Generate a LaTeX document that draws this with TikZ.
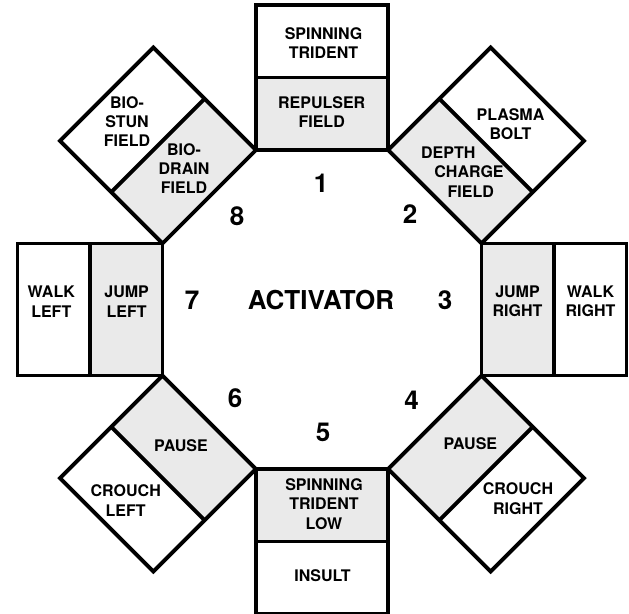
\documentclass[tikz,border=0pt]{standalone}
\usepackage{fontspec}
\setmainfont{TeX Gyre Heros}
\definecolor{boxgray}{RGB}{234,234,234}
\tikzset{
  lbl/.style={font=\fontsize{16}{19.3}\selectfont\bfseries, align=center, inner sep=0pt},
  big/.style={font=\fontsize{26}{30}\selectfont\bfseries, inner sep=0pt},
  frame/.style={line width=3.8pt, line join=miter},
}
\begin{document}
\begin{tikzpicture}[x=1pt,y=-1pt]
\useasboundingbox (0,0) rectangle (629,613);
\fill[white] (0,0) rectangle (629,613);
\coordinate (C) at (322,309.5);
% eight two-part panels around the octagon
\foreach \k in {0,...,7}{
  \begin{scope}[shift={(C)}, rotate=45*\k]
    \fill[boxgray] (-66.05,-159.5) rectangle (66.05,-232);
    \draw[frame] (-66.05,-159.5) rectangle (66.05,-304.5);
    \draw[frame] (-66.05,-232) -- (66.05,-232);
  \end{scope}
}
% panel labels
\node[lbl] (st)  at (323.5,43)    {SPINNING\\TRIDENT};
\node[lbl] (rf)  at (321.7,112)   {REPULSER\\FIELD};
\node[lbl] (bs)  at (127,121.5)   {BIO-\\STUN\\FIELD};
\node[lbl] (bd)  at (184,168.5)   {BIO-\\DRAIN\\FIELD};
\node[lbl] (pb)  at (510.5,124)   {PLASMA\\BOLT};
\node[lbl] (dc)  at (469,172)     {DEPTH\kern41.4pt\\CHARGE\\\kern3.6pt FIELD};
\node[lbl] (wl)  at (51.3,301.7)  {WALK\\LEFT};
\node[lbl] (jl)  at (126.6,301.7) {JUMP\\LEFT};
\node[lbl] (jr)  at (517.5,301.5) {JUMP\\RIGHT};
\node[lbl] (wr)  at (590.5,301.5) {WALK\\RIGHT};
\node[lbl] (pl)  at (181,446)     {PAUSE};
\node[lbl] (cl)  at (125.7,500.5) {CROUCH\\LEFT};
\node[lbl] (pr)  at (470.3,444)   {PAUSE};
\node[lbl] (cr)  at (518,498.7)   {CROUCH\\RIGHT};
\node[lbl] (stl) at (324,504)     {SPINNING\\TRIDENT\\LOW};
\node[lbl] (ins) at (322.5,576)   {INSULT};
% centre and numbers
\node[big] (act) at (321,300)   {ACTIVATOR};
\node[big] (n1)  at (321,183.5) {1};
\node[big] (n2)  at (410,214)   {2};
\node[big] (n3)  at (445,300)   {3};
\node[big] (n4)  at (411.5,400.5) {4};
\node[big] (n5)  at (323,432)   {5};
\node[big] (n6)  at (235,398.5) {6};
\node[big] (n7)  at (192,300.5) {7};
\node[big] (n8)  at (237,216)   {8};
\end{tikzpicture}
\end{document}
